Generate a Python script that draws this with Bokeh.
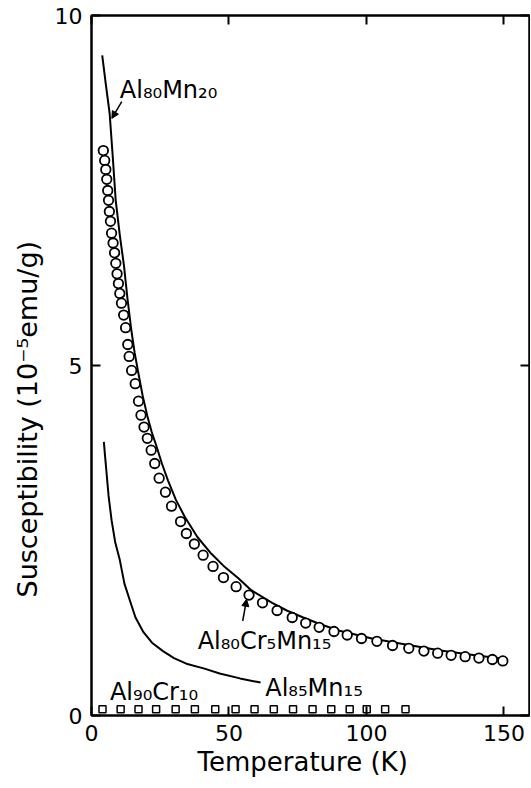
from bokeh.plotting import figure
from bokeh.models import (Range1d, FixedTicker, LinearAxis, Label, Arrow, NormalHead, Title)
from bokeh.embed import file_html
from bokeh.resources import INLINE

# ---- data ----
# Al80Cr5Mn15 : open circles
cr5_T = [4.3, 4.8, 5.2, 5.55, 5.9, 6.2, 6.5, 6.9, 7.3, 7.85,
         8.4, 8.85, 9.3, 9.8, 10.3, 10.9, 11.7, 12.4, 13.2, 13.7,
         14.6, 15.9, 17.1, 18.0, 19.1, 20.3, 21.7, 23.0, 24.6, 26.9,
         29.1, 32.4, 34.5, 37.4, 40.6, 44.2, 48.0, 52.6, 57.3, 62.2,
         67.5, 73.0, 77.9, 82.8, 88.2, 93.0, 98.2, 103.8, 109.5, 115.4,
         120.9, 125.9, 130.8, 135.9, 140.9, 145.8, 149.6]
cr5_chi = [8.07, 7.93, 7.80, 7.66, 7.50, 7.36, 7.20, 7.06, 6.89, 6.75,
           6.61, 6.46, 6.31, 6.17, 6.03, 5.89, 5.72, 5.54, 5.30, 5.13,
           4.93, 4.74, 4.49, 4.29, 4.12, 3.96, 3.79, 3.60, 3.39, 3.19,
           2.99, 2.77, 2.60, 2.45, 2.29, 2.13, 1.97, 1.84, 1.72, 1.61,
           1.50, 1.40, 1.32, 1.26, 1.20, 1.15, 1.10, 1.06, 1.00, 0.96,
           0.92, 0.89, 0.86, 0.84, 0.82, 0.80, 0.78]

# Al80Mn20 : solid line
mn20_T = [3.9, 5.2, 6.6, 7.7, 8.8, 10.3, 11.8, 13.1, 14.5, 15.7, 17.0,
          18.6, 20.3, 21.9, 23.6, 25.6, 27.8, 30.7, 33.9, 38.5, 43.6,
          48.5, 53.4, 58.1, 65.7, 71.0, 77.0, 83.5, 90.2, 102.0, 114.8,
          127.0, 139.4, 149.9]
mn20_chi = [9.43, 9.02, 8.60, 8.00, 7.36, 6.86, 6.43, 5.95, 5.50, 5.18, 4.90,
            4.57, 4.28, 4.05, 3.85, 3.60, 3.36, 3.08, 2.84, 2.55, 2.31,
            2.12, 1.96, 1.79, 1.61, 1.50, 1.40, 1.30, 1.21, 1.10, 1.01,
            0.93, 0.86, 0.81]

# Al85Mn15 : solid line
mn15_T = [4.5, 4.9, 5.4, 6.2, 7.3, 8.6, 10.3, 12.0, 13.9, 16.0, 18.9,
          22.0, 26.0, 30.0, 34.5, 41.1, 46.6, 54.0, 61.5]
mn15_chi = [3.91, 3.72, 3.50, 3.14, 2.79, 2.48, 2.22, 1.88, 1.65, 1.40, 1.19,
            1.04, 0.92, 0.82, 0.74, 0.67, 0.60, 0.53, 0.47]

# Al90Cr10 : open squares
cr10_T = [4.0, 10.6, 17.1, 23.5, 30.6, 37.6, 45.0, 52.4, 59.3, 66.3,
          73.3, 80.4, 87.2, 93.9, 100.1, 106.8, 114.2]
cr10_chi = [0.09, 0.09, 0.09, 0.09, 0.09, 0.09, 0.09, 0.09, 0.09, 0.09,
            0.09, 0.09, 0.09, 0.09, 0.09, 0.09, 0.09]

x_ticks = [0, 50, 100, 150]
y_ticks = [0, 5, 10]
x_title = "Temperature (K)"
y_title = "Susceptibility (10\u207b\u2075emu/g)"

FONT = "DejaVu Sans"

p = figure(width=530, height=786, output_backend="svg", toolbar_location=None,
           x_range=Range1d(0, 159.3), y_range=Range1d(0, 10),
           min_border_left=90, min_border_right=1, min_border_top=15,
           min_border_bottom=71)
p.background_fill_color = "white"
p.border_fill_color = "white"
p.grid.visible = False
p.outline_line_color = "black"
p.outline_line_width = 2

for ax in p.xaxis:
    ax.ticker = FixedTicker(ticks=x_ticks)
for ax in p.yaxis:
    ax.ticker = FixedTicker(ticks=y_ticks)

for ax in list(p.xaxis) + list(p.yaxis):
    ax.major_tick_in = 9
    ax.major_tick_out = 0
    ax.minor_tick_line_color = None
    ax.major_tick_line_width = 2
    ax.major_tick_line_color = "black"
    ax.axis_line_width = 2
    ax.axis_line_color = "black"
    ax.major_label_text_font = FONT
    ax.major_label_text_font_size = "22px"
    ax.major_label_text_color = "black"
    ax.major_label_standoff = 9

top = LinearAxis(ticker=FixedTicker(ticks=x_ticks), major_tick_in=9, major_tick_out=0,
                 minor_tick_line_color=None, major_tick_line_width=2,
                 axis_line_width=2, major_label_text_font_size="1px",
                 major_label_text_color=None, major_label_standoff=0)
right = LinearAxis(ticker=FixedTicker(ticks=y_ticks), major_tick_in=9, major_tick_out=0,
                   minor_tick_line_color=None, major_tick_line_width=2,
                   axis_line_width=2, major_label_text_font_size="1px",
                   major_label_text_color=None, major_label_standoff=0)
p.add_layout(top, "above")
p.add_layout(right, "right")

# axis titles (side titles, offset like the original)
p.add_layout(Title(text=x_title, align="left", offset=106, standoff=3,
                   text_font=FONT, text_font_size="26px", text_font_style="normal",
                   text_color="black"), "below")
p.add_layout(Title(text=y_title, align="left", offset=118, standoff=18,
                   text_font=FONT, text_font_size="27px", text_font_style="normal",
                   text_color="black"), "left")

# data
p.line(mn20_T, mn20_chi, line_color="black", line_width=2)
p.line(mn15_T, mn15_chi, line_color="black", line_width=2)
p.scatter(cr5_T, cr5_chi, marker="circle", size=9.5, fill_color="white",
          line_color="black", line_width=1.8)
p.scatter(cr10_T, cr10_chi, marker="square", size=7, fill_color="white",
          line_color="black", line_width=1.5)

# annotations
ann = dict(text_font=FONT, text_font_size="24px", text_color="black",
           text_baseline="middle", text_align="left")
p.add_layout(Label(x=10.3, y=8.93, text="Al\u2088\u2080Mn\u2082\u2080", **ann))
p.add_layout(Label(x=38.6, y=1.06, text="Al\u2088\u2080Cr\u2085Mn\u2081\u2085", **ann))
p.add_layout(Label(x=63.2, y=0.40, text="Al\u2088\u2085Mn\u2081\u2085", **ann))
p.add_layout(Label(x=6.7, y=0.34, text="Al\u2089\u2080Cr\u2081\u2080", **ann))

p.add_layout(Arrow(x_start=11.0, y_start=8.77, x_end=7.4, y_end=8.53,
                   line_width=1.5, line_color="black",
                   end=NormalHead(size=7, fill_color="black", line_color="black")))
p.add_layout(Arrow(x_start=55.0, y_start=1.35, x_end=56.4, y_end=1.66,
                   line_width=1.5, line_color="black",
                   end=NormalHead(size=7, fill_color="black", line_color="black")))

open("out.html", "w").write(file_html(p, INLINE))
